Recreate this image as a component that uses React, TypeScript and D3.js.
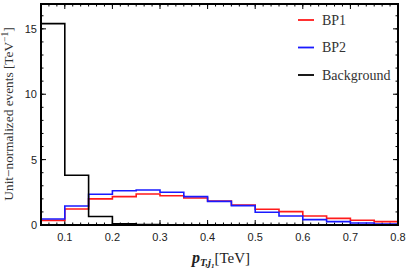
import { useMemo } from "react";
import * as d3 from "d3";

// bin edges 0.05 .. 0.8 in steps of 0.05
const binEdges = [
  0.05, 0.1, 0.15, 0.2, 0.25, 0.3, 0.35, 0.4, 0.45, 0.5, 0.55, 0.6, 0.65,
  0.7, 0.75, 0.8,
];
const bp1 = [
  0.35, 1.22, 2.0, 2.17, 2.37, 2.24, 2.07, 1.84, 1.53, 1.2, 1.02, 0.69,
  0.51, 0.36, 0.26,
];
const bp2 = [
  0.46, 1.45, 2.35, 2.62, 2.68, 2.5, 2.17, 1.81, 1.48, 0.97, 0.69, 0.41,
  0.26, 0.15, 0.08,
];
const background = [
  15.4, 3.8, 0.65, 0.1, 0.03, 0.01, 0, 0, 0, 0, 0, 0, 0, 0, 0,
];
const xTicks = [0.1, 0.2, 0.3, 0.4, 0.5, 0.6, 0.7, 0.8];
const yTicks = [0, 5, 10, 15];
const legendItems = [
  { name: "BP1", color: "#ff1a1a" },
  { name: "BP2", color: "#1a1aff" },
  { name: "Background", color: "#000" },
];

const W = 409;
const H = 273;
const margin = { top: 4, right: 11, bottom: 48, left: 41 };
const serif = "'Liberation Serif', 'DejaVu Serif', serif";
const sans = "'Liberation Sans', Arial, sans-serif";

export default function App() {
  const x = d3
    .scaleLinear()
    .domain([0.05, 0.8])
    .range([margin.left, W - margin.right]);
  const y = d3
    .scaleLinear()
    .domain([0, 16.9])
    .range([H - margin.bottom, margin.top]);

  // step path for a histogram
  const histPath = (vals: number[]) => {
    const pts: [number, number][] = [];
    vals.forEach((v, i) => {
      pts.push([binEdges[i], v]);
      pts.push([binEdges[i + 1], v]);
    });
    return d3
      .line<[number, number]>()
      .x((d) => x(d[0]))
      .y((d) => y(d[1]))(pts) as string;
  };

  const series = [
    { vals: bp1, color: legendItems[0].color },
    { vals: bp2, color: legendItems[1].color },
    { vals: background, color: legendItems[2].color },
  ];

  // minor ticks
  const xMinor = useMemo(() => d3.range(0.05, 0.8001, 0.1 / 6), []);
  const yMinor = useMemo(() => d3.range(0, 16.9, 1), []);

  const x0 = x.range()[0];
  const x1 = x.range()[1];
  const y0 = y.range()[0];
  const y1 = y.range()[1];

  return (
    <svg
      width={W}
      height={H}
      style={{ position: "absolute", left: 0, top: 0, background: "#fff" }}
    >
      <defs>
        <clipPath id="plot">
          <rect x={x0} y={y1} width={x1 - x0} height={y0 - y1} />
        </clipPath>
      </defs>

      {/* ticks */}
      <g stroke="#000" strokeWidth={1}>
        {xMinor.map((t, i) => (
          <g key={"xm" + i}>
            <line x1={x(t)} x2={x(t)} y1={y0} y2={y0 - 2.5} />
            <line x1={x(t)} x2={x(t)} y1={y1} y2={y1 + 2.5} />
          </g>
        ))}
        {xTicks.map((t) => (
          <g key={"xM" + t}>
            <line x1={x(t)} x2={x(t)} y1={y0} y2={y0 - 5} />
            <line x1={x(t)} x2={x(t)} y1={y1} y2={y1 + 5} />
          </g>
        ))}
        {yMinor.map((t, i) => (
          <g key={"ym" + i}>
            <line x1={x0} x2={x0 + 2.5} y1={y(t)} y2={y(t)} />
            <line x1={x1} x2={x1 - 2.5} y1={y(t)} y2={y(t)} />
          </g>
        ))}
        {yTicks.map((t) => (
          <g key={"yM" + t}>
            <line x1={x0} x2={x0 + 5} y1={y(t)} y2={y(t)} />
            <line x1={x1} x2={x1 - 5} y1={y(t)} y2={y(t)} />
          </g>
        ))}
      </g>

      {/* histograms */}
      <g clipPath="url(#plot)" fill="none" strokeWidth={1.6}>
        {series.map((s, i) => (
          <path key={i} d={histPath(s.vals)} stroke={s.color} />
        ))}
      </g>

      {/* frame */}
      <rect
        x={x0}
        y={y1}
        width={x1 - x0}
        height={y0 - y1}
        fill="none"
        stroke="#000"
        strokeWidth={2}
      />

      {/* tick labels */}
      <g fontFamily={sans} fontSize={11} fill="#222">
        {xTicks.map((t) => (
          <text key={"xl" + t} x={x(t)} y={y0 + 16} textAnchor="middle">
            {d3.format(".1f")(t)}
          </text>
        ))}
        {yTicks.map((t) => (
          <text
            key={"yl" + t}
            x={x0 - 4}
            y={y(t) + 4}
            textAnchor="end"
          >
            {t}
          </text>
        ))}
      </g>

      {/* axis titles */}
      <text
        transform={`translate(13,114) rotate(-90)`}
        textAnchor="middle"
        fontFamily={serif}
        fontSize={13.3}
        fill="#333"
      >
        Unit−normalized events [TeV
        <tspan dy={-5} fontSize={9.5}>
          −1
        </tspan>
        <tspan dy={5}>]</tspan>
      </text>
      <text
        x={221}
        y={263}
        textAnchor="middle"
        fontFamily={serif}
        fontSize={15}
        fill="#222"
      >
        <tspan fontWeight="bold" fontStyle="italic" fontSize={16}>
          p
        </tspan>
        <tspan dy={3} fontWeight="bold" fontStyle="italic" fontSize={10.5}>
          T,j
        </tspan>
        <tspan dy={2} fontWeight="bold" fontStyle="italic" fontSize={7}>
          1
        </tspan>
        <tspan dy={-5}>[TeV]</tspan>
      </text>

      {/* legend */}
      <g fontFamily={serif} fontSize={14} fill="#333">
        {legendItems.map((d, i) => (
          <g key={d.name} transform={`translate(298,${20 + i * 27.5})`}>
            <line x1={0} x2={16} y1={0} y2={0} stroke={d.color} strokeWidth={1.8} />
            <text x={24} y={4.5}>
              {d.name}
            </text>
          </g>
        ))}
      </g>
    </svg>
  );
}
